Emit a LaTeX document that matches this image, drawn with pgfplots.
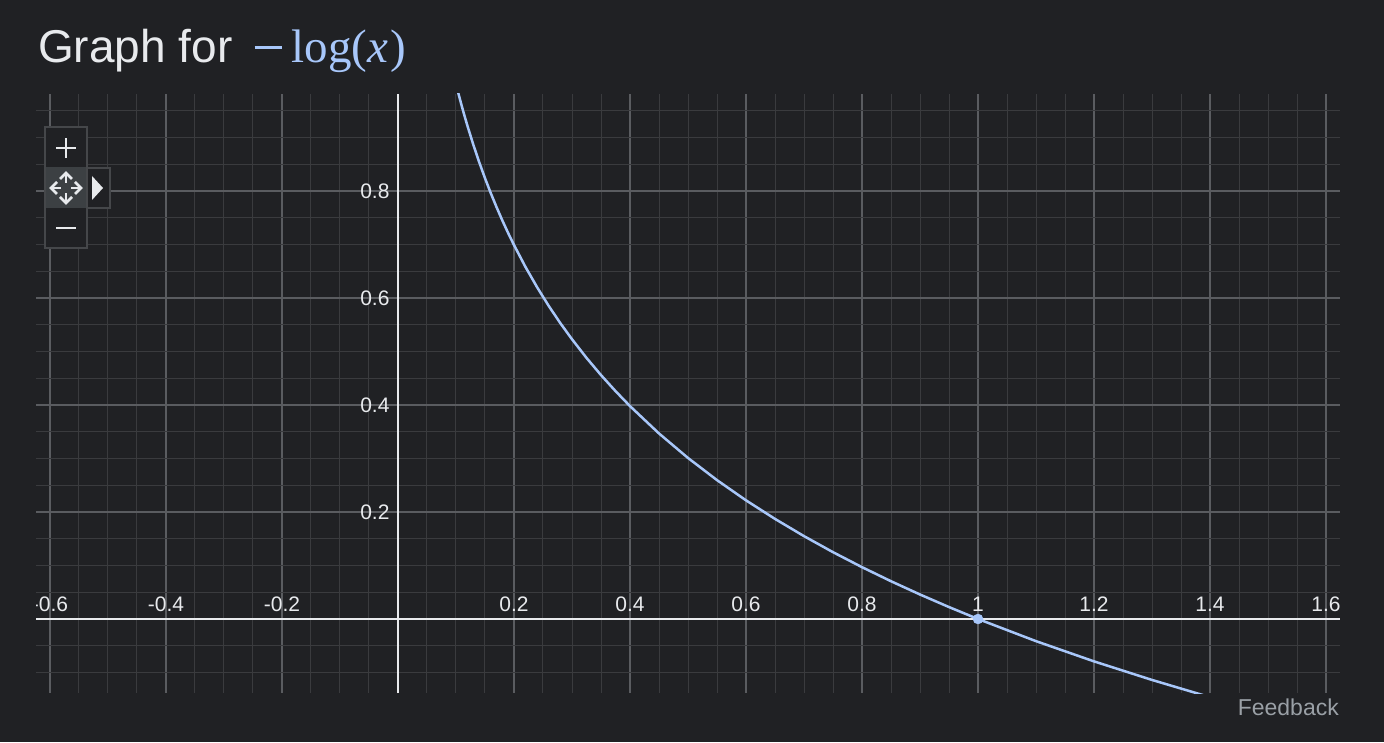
\documentclass[border=0pt]{standalone}
\usepackage{pgfplots}
\pgfplotsset{compat=1.18}
\usepackage[no-math]{fontspec}
\setmainfont{Liberation Sans}
\newfontfamily\seriffont{Liberation Serif}
\definecolor{bg}{HTML}{202124}
\definecolor{mingrid}{HTML}{3A3B3E}
\definecolor{majgrid}{HTML}{5A5C60}
\definecolor{axcol}{HTML}{E8EAED}
\definecolor{curve}{HTML}{A8C7FA}
\definecolor{fbcol}{HTML}{9AA0A6}
\definecolor{ctrlline}{HTML}{45474A}
\definecolor{ctrlfill}{HTML}{3C4043}
\begin{document}
\begin{tikzpicture}[x=1pt,y=1pt]
\fill[bg] (0,0) rectangle (1384,742);
\begin{axis}[
  at={(36pt,49pt)}, anchor=south west,
  scale only axis, width=1304pt, height=599pt,
  xmin=-0.6241, xmax=1.6241, ymin=-0.1383, ymax=0.9813,
  axis lines=middle,
  axis line style={draw=axcol, line width=2pt, -},
  xtick={-0.6,-0.4,-0.2,0.2,0.4,0.6,0.8,1,1.2,1.4,1.6},
  xticklabels={-0.6,-0.4,-0.2,0.2,0.4,0.6,0.8,1,1.2,1.4,1.6},
  ytick={0.2,0.4,0.6,0.8},
  yticklabels={0.2,0.4,0.6,0.8},
  minor xtick={-0.6,-0.55,...,1.62},
  minor ytick={-0.1,-0.05,...,0.96},
  grid=both,
  major grid style={draw=majgrid, line width=1.3pt},
  minor grid style={draw=mingrid, line width=1pt},
  major tick length=0pt, minor tick length=0pt,
  tick style={draw=none},
  tick label style={font=\fontsize{21}{21}\selectfont, text=axcol},
  xticklabel style={anchor=south, yshift=4pt},
  yticklabel style={anchor=east, xshift=-5pt},
  hide obscured x ticks=false,
]
\addplot[color=curve, line width=2.5pt] coordinates {
(0.100,1.0000) (0.105,0.9788) (0.110,0.9586) (0.115,0.9393) (0.120,0.9208)
(0.130,0.8861) (0.140,0.8539) (0.150,0.8239) (0.160,0.7959) (0.170,0.7696)
(0.180,0.7447) (0.190,0.7212) (0.200,0.6990) (0.220,0.6576) (0.240,0.6198)
(0.260,0.5850) (0.280,0.5528) (0.300,0.5229) (0.325,0.4881) (0.350,0.4559)
(0.375,0.4260) (0.400,0.3979) (0.450,0.3468) (0.500,0.3010) (0.550,0.2596)
(0.600,0.2218) (0.650,0.1871) (0.700,0.1549) (0.750,0.1249) (0.800,0.0969)
(0.850,0.0706) (0.900,0.0458) (0.950,0.0223) (1.000,0.0000) (1.100,-0.0414)
(1.200,-0.0792) (1.300,-0.1139) (1.400,-0.1461)
};
\addplot[only marks, mark=*, mark size=5pt, color=curve] coordinates {(1,0)};
\end{axis}
% clip of leftmost label
\fill[bg] (0,100) rectangle (35.8,160);
% title
\node[anchor=base west, inner sep=0pt, text=axcol, font=\fontsize{46}{54}\selectfont] at (38,679.5)
  {Graph for\kern22pt\textcolor{curve}{\rule[13.8pt]{27pt}{2.4pt}\kern10pt{\seriffont\fontsize{47}{54}\selectfont log(\textit{x\kern2pt})}}};
% feedback
\node[anchor=base east, inner sep=0pt, text=fbcol, font=\fontsize{23}{23}\selectfont] at (1339,27) {Feedback};
% zoom controls
\fill[bg] (45,494) rectangle (87,615);
\fill[ctrlfill] (45,534) rectangle (87,575);
\draw[ctrlline, line width=1.5pt] (45,494) rectangle (87,615);
\fill[bg] (87,534) rectangle (110,574);
\draw[ctrlline, line width=1.5pt] (87,534) rectangle (110,574);
\draw[axcol, line width=2.8pt] (56,594) -- (76,594) (66,584) -- (66,604);
\draw[axcol, line width=2.8pt] (56,514) -- (76,514);
\fill[axcol] (92,566) -- (92,542) -- (103,554) -- cycle;
\begin{scope}[axcol, line width=2.5pt]
\draw (51,554) -- (81,554) (66,539) -- (66,569);
\draw (57,560) -- (51,554) -- (57,548);
\draw (75,560) -- (81,554) -- (75,548);
\draw (60,563) -- (66,569) -- (72,563);
\draw (60,545) -- (66,539) -- (72,545);
\end{scope}
\fill[ctrlfill] (61,549) rectangle (71,559);
\end{tikzpicture}
\end{document}
